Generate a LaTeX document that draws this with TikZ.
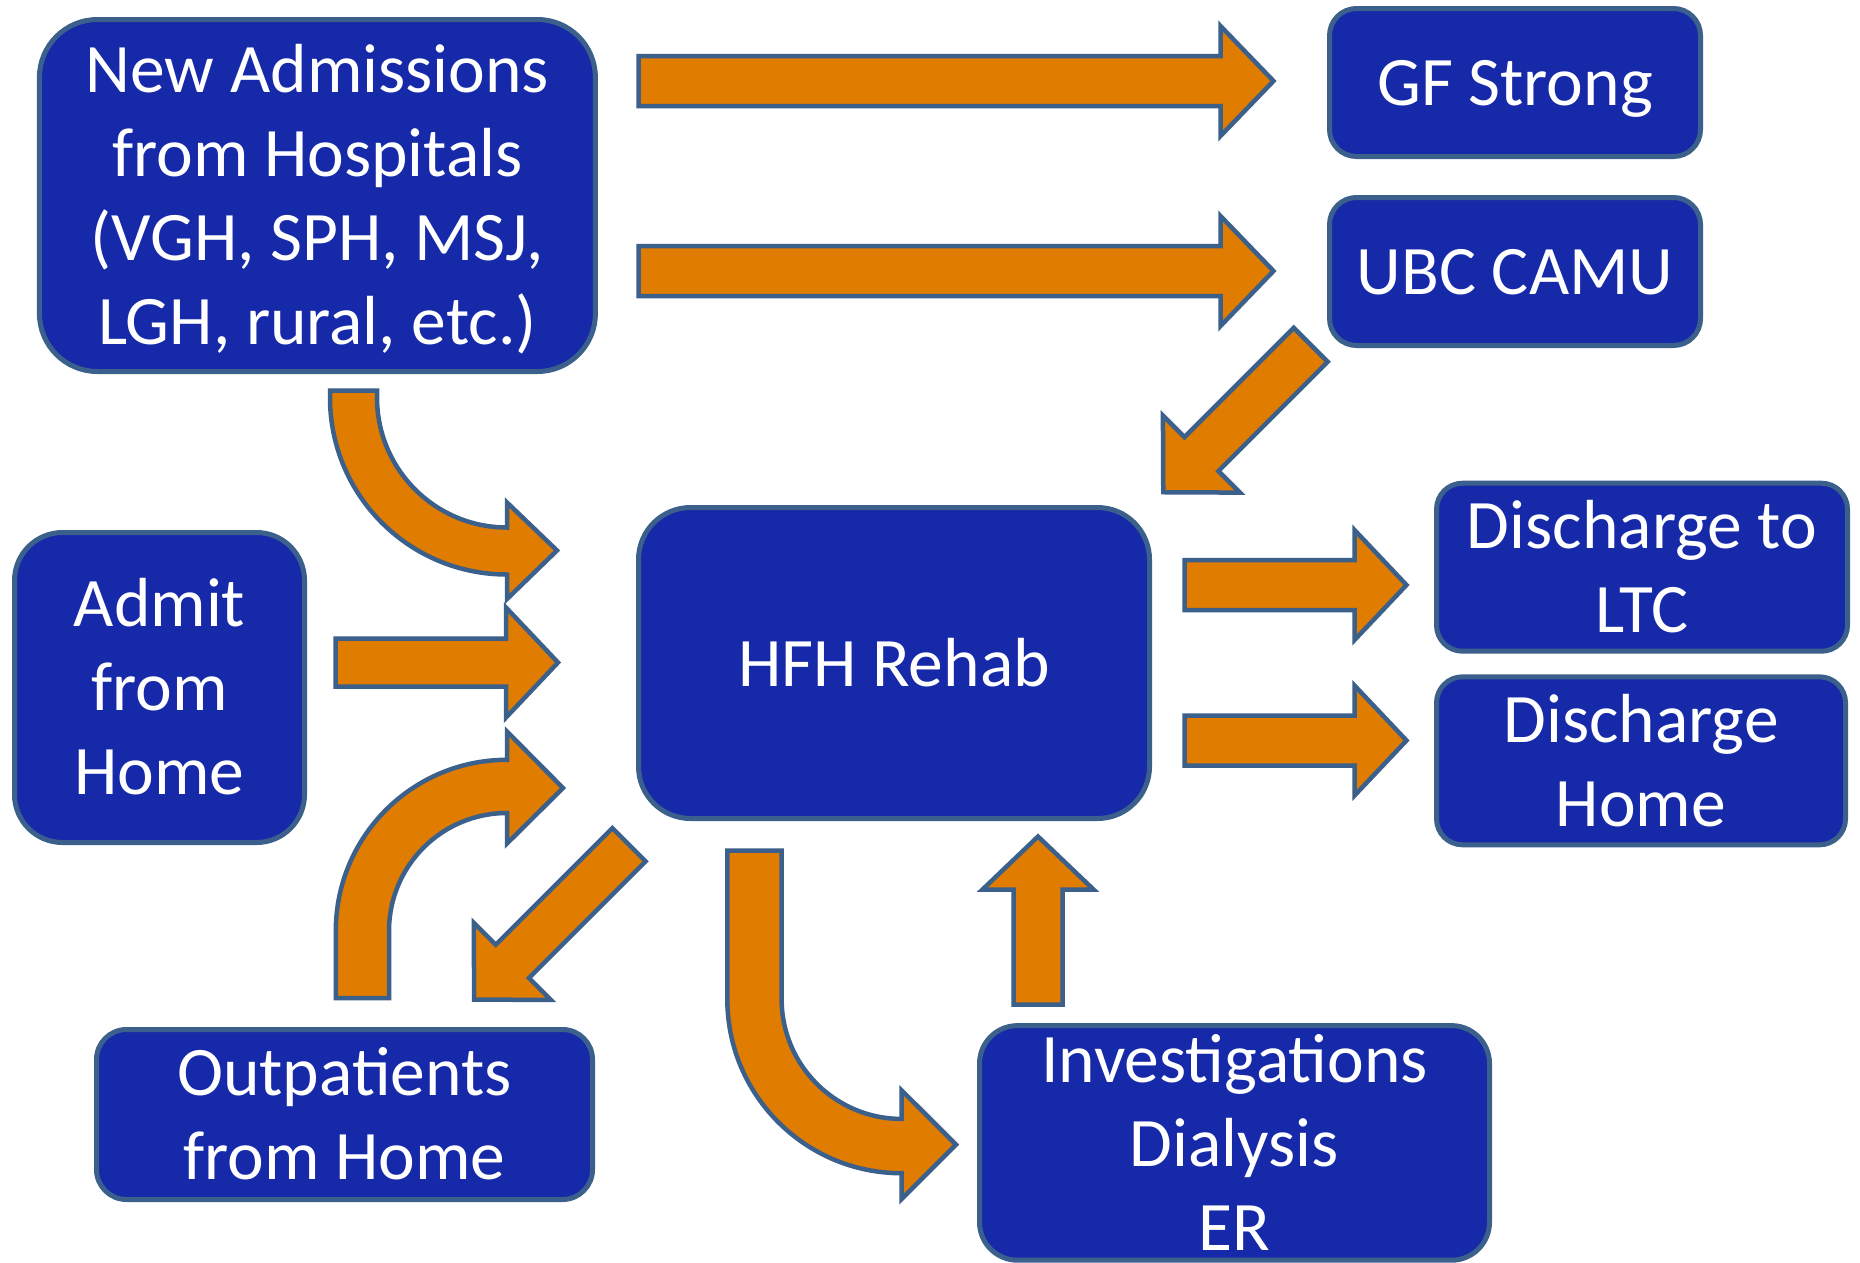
\documentclass[tikz,border=0pt]{standalone}
\usepackage{fontspec}
\setmainfont{Carlito}
\definecolor{boxblue}{RGB}{22,41,168}
\definecolor{edgeblue}{RGB}{60,96,140}
\definecolor{arroworange}{RGB}{224,124,0}
\newcommand\boxfont{\fontsize{69.5}{84}\selectfont}
\newcommand\bxs{\rule[-18.7pt]{0pt}{84pt}}
\newcommand\bxsfirst{\rule[-18.7pt]{0pt}{75.3pt}}
\newcommand\bxslast{\rule[-10pt]{0pt}{75.3pt}}
% block arrow: start, angle, length, shaft half, head half, head length
\newcommand\barrow[6]{%
  \draw[blockarrow, shift={#1}, rotate=#2]
    (0,-#4) -- ({#3-#6},-#4) -- ({#3-#6},-#5) -- (#3,0) -- ({#3-#6},#5) -- ({#3-#6},#4) -- (0,#4) -- cycle;}
\begin{document}
\begin{tikzpicture}[x=1pt,y=-1pt,
  box/.style={draw=edgeblue, line width=5pt, fill=boxblue, text=white,
    align=center, font=\boxfont, inner sep=0pt, rectangle},
  blockarrow/.style={draw=edgeblue, line width=4.5pt, fill=arroworange, line join=miter}]
\useasboundingbox (0,0) rectangle (1860,1262);

% boxes
\node[box, rounded corners=58pt, minimum width=556pt, minimum height=352pt] (adm) at (317.4,195.5)
  {\bxs New Admissions\\\bxs from Hospitals\\\bxs (VGH, SPH, MSJ,\\\bxs LGH, rural, etc.)};
\node[box, rounded corners=27pt, minimum width=371pt, minimum height=148pt] (gf) at (1515,82.5) {\bxs GF Strong};
\node[box, rounded corners=27pt, minimum width=371pt, minimum height=148pt] (ubc) at (1515,271.5) {\bxs UBC CAMU};
\node[box, rounded corners=26pt, minimum width=411pt, minimum height=146pt] (ltc) at (1642,567.2) {\bxs Discharge to\\\bxs LTC};
\node[box, rounded corners=26pt, minimum width=409pt, minimum height=147pt] (dhome) at (1641,760.8) {\bxs Discharge\\\bxs Home};
\node[box, rounded corners=52pt, minimum width=511pt, minimum height=311pt] (hfh) at (894,663) {\bxs HFH Rehab};
\node[box, rounded corners=48pt, minimum width=290pt, minimum height=310pt] (admit) at (159.5,687.5) {\bxs Admit\\\bxs from\\\bxs Home};
\node[box, rounded corners=30pt, minimum width=496pt, minimum height=170pt] (outp) at (344.5,1114.5) {\bxs Outpatients\\\bxs from Home};
\node[box, rounded corners=38pt, minimum width=510pt, minimum height=226.8pt] (inv) at (1234.5,1142.9) {\bxsfirst Investigations\\\bxs Dialysis\\\bxslast ER};

% straight block arrows
\barrow{(638.5,81)}{0}{635}{25}{55}{53}
\barrow{(638.5,271)}{0}{635}{25}{55}{53}
\barrow{(1184.5,585)}{0}{222}{25}{55}{52}
\barrow{(1184.5,740.5)}{0}{222}{25}{55}{52}
\barrow{(335.5,662.5)}{0}{222.5}{24}{55}{52}
\barrow{(1038,1004.5)}{90}{168}{24.5}{55.5}{53}
\barrow{(1310.7,344.8)}{225}{208.5}{24}{54.5}{54}
\barrow{(629,844.7)}{225}{219}{23.5}{54.5}{54}

% curved block arrows
\draw[blockarrow] (330,390.5) -- (377,390.5) -- (377,397.5)
  .. controls (377,469.3) and (435.2,527.5) .. (507,527.5)
  -- (507,502.5) -- (557,550.5) -- (507,599) -- (507,574.5)
  .. controls (409.2,574.5) and (330,495.3) .. (330,397.5) -- cycle;
\draw[blockarrow] (335.8,998) -- (389,998) -- (389,931)
  .. controls (389,865.8) and (441.8,813) .. (507,813)
  -- (507,843.5) -- (563,788) -- (507,731.5) -- (507,759.8)
  .. controls (412.4,759.8) and (335.8,836.4) .. (335.8,931) -- cycle;
\draw[blockarrow] (727.3,850.5) -- (781.6,850.5) -- (781.6,999)
  .. controls (781.6,1065.2) and (835.3,1118.9) .. (901.5,1118.9)
  -- (901.5,1090.2) -- (956,1144.6) -- (901.5,1199.1) -- (901.5,1173.2)
  .. controls (805.3,1173.2) and (727.3,1095.2) .. (727.3,999) -- cycle;
\end{tikzpicture}
\end{document}
